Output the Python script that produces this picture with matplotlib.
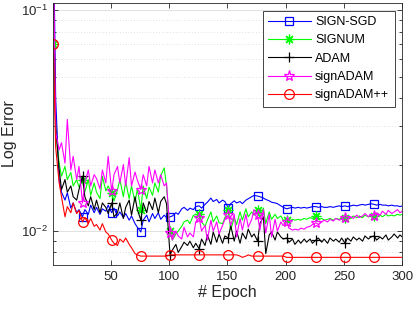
import numpy as np
import matplotlib
matplotlib.use('Agg')
from matplotlib import pyplot as plt
from matplotlib.ticker import LogLocator, NullFormatter

# global settings (MATLAB-like look)
plt.rcParams["font.family"] = ['Liberation Sans', 'DejaVu Sans']
plt.rcParams["mathtext.fontset"] = 'custom'
plt.rcParams["mathtext.rm"] = 'Liberation Sans'
plt.rcParams["mathtext.it"] = 'Liberation Sans:italic'
plt.rcParams["font.size"] = 9.5

# epochs at which values were read (every 2-3 epochs)
epochs = np.sort(np.r_[np.arange(1, 300, 5), np.arange(3, 300, 5), 300])

# SIGN-SGD
sign_sgd = [0.25, 0.040, 0.0170, 0.0150, 0.0138, 0.0149, 0.0127, 0.0134, 0.0121, 0.0125,
            0.0116, 0.0125, 0.0119, 0.0131, 0.0121, 0.0128, 0.0119, 0.0126, 0.0123, 0.0131,
            0.0121, 0.0127, 0.0117, 0.0122, 0.0115, 0.0120, 0.0112, 0.0117, 0.0108, 0.0104,
            0.0099, 0.0112, 0.0118, 0.0110, 0.0120, 0.0114, 0.0121, 0.0113, 0.0118, 0.0115,
            0.0116, 0.0117, 0.0121, 0.0119, 0.0126, 0.0128, 0.0124, 0.0127, 0.0125, 0.0129,
            0.0130, 0.0127, 0.0132, 0.0135, 0.0141, 0.0136, 0.0139, 0.0134, 0.0138, 0.0136,
            0.0127, 0.0133, 0.0137, 0.0134, 0.0136, 0.0133, 0.0138, 0.0140, 0.0143, 0.0145,
            0.0144, 0.0143, 0.0141, 0.0139, 0.0137, 0.0135, 0.0134, 0.0133, 0.0130, 0.0128,
            0.0126, 0.0127, 0.0128, 0.0127, 0.0128, 0.0127, 0.0128, 0.0127, 0.0128, 0.0129,
            0.0129, 0.0128, 0.0129, 0.0128, 0.0128, 0.0129, 0.0128, 0.0129, 0.0130, 0.0129,
            0.0130, 0.0129, 0.0130, 0.0131, 0.0130, 0.0131, 0.0132, 0.0131, 0.0132, 0.0133,
            0.0132, 0.0131, 0.0132, 0.0131, 0.0131, 0.0130, 0.0131, 0.0130, 0.0130, 0.0129, 0.0130]

# SIGNUM
signum = [0.070, 0.028, 0.0203, 0.0177, 0.0196, 0.0171, 0.0184, 0.0160, 0.0171, 0.0158,
          0.0170, 0.0150, 0.0171, 0.0145, 0.0165, 0.0150, 0.0140, 0.0177, 0.0152, 0.0160,
          0.0148, 0.0137, 0.0154, 0.0171, 0.0143, 0.0167, 0.0140, 0.0160, 0.0135, 0.0155,
          0.0125, 0.0160, 0.0140, 0.0158, 0.0145, 0.0165, 0.0150, 0.0178, 0.0193, 0.0160,
          0.0100, 0.0091, 0.0097, 0.0100, 0.0105, 0.0110, 0.0112, 0.0108, 0.0118, 0.0115,
          0.0120, 0.0110, 0.0105, 0.0112, 0.0122, 0.0110, 0.0117, 0.0109, 0.0108, 0.0115,
          0.0125, 0.0101, 0.0115, 0.0107, 0.0122, 0.0112, 0.0126, 0.0116, 0.0122, 0.0118,
          0.0125, 0.0115, 0.0127, 0.0108, 0.0122, 0.0113, 0.0119, 0.0114, 0.0117, 0.0112,
          0.0112, 0.0111, 0.0113, 0.0112, 0.0113, 0.0112, 0.0114, 0.0113, 0.0115, 0.0114,
          0.0117, 0.0113, 0.0114, 0.0112, 0.0113, 0.0114, 0.0112, 0.0114, 0.0113, 0.0115,
          0.0114, 0.0116, 0.0114, 0.0117, 0.0115, 0.0117, 0.0115, 0.0118, 0.0116, 0.0117,
          0.0117, 0.0116, 0.0118, 0.0116, 0.0119, 0.0117, 0.0118, 0.0117, 0.0119, 0.0118, 0.0119]

# ADAM
adam = [0.15, 0.030, 0.0190, 0.0154, 0.0171, 0.0150, 0.0160, 0.0143, 0.0138, 0.0154,
        0.0177, 0.0143, 0.0130, 0.0143, 0.0125, 0.0138, 0.0121, 0.0134, 0.0128, 0.0120,
        0.0134, 0.0116, 0.0121, 0.0134, 0.0114, 0.0128, 0.0138, 0.0118, 0.0143, 0.0125,
        0.0112, 0.0134, 0.0121, 0.0136, 0.0125, 0.0141, 0.0121, 0.0136, 0.0143, 0.0133,
        0.0078, 0.0082, 0.0087, 0.0080, 0.0085, 0.0089, 0.0086, 0.0090, 0.0084, 0.0088,
        0.0083, 0.0092, 0.0086, 0.0096, 0.0087, 0.0099, 0.0089, 0.0097, 0.0088, 0.0095,
        0.0093, 0.0106, 0.0090, 0.0100, 0.0088, 0.0098, 0.0092, 0.0102, 0.0094, 0.0097,
        0.0090, 0.0108, 0.0116, 0.0079, 0.0096, 0.0099, 0.0091, 0.0099, 0.0094, 0.0092,
        0.0093, 0.0089, 0.0092, 0.0087, 0.0091, 0.0088, 0.0092, 0.0089, 0.0092, 0.0088,
        0.0091, 0.0093, 0.0089, 0.0092, 0.0088, 0.0093, 0.0090, 0.0092, 0.0089, 0.0093,
        0.0088, 0.0093, 0.0090, 0.0094, 0.0091, 0.0093, 0.0090, 0.0095, 0.0092, 0.0094,
        0.0095, 0.0091, 0.0094, 0.0092, 0.0096, 0.0091, 0.0094, 0.0097, 0.0093, 0.0096, 0.0094]

# signADAM
sign_adam = [0.20, 0.028, 0.0233, 0.0251, 0.0203, 0.0320, 0.0189, 0.0218, 0.0171, 0.0196,
             0.0134, 0.0165, 0.0189, 0.0160, 0.0180, 0.0173, 0.0155, 0.0189, 0.0165, 0.0218,
             0.0151, 0.0180, 0.0196, 0.0165, 0.0200, 0.0160, 0.0215, 0.0160, 0.0185, 0.0170,
             0.0154, 0.0180, 0.0160, 0.0196, 0.0165, 0.0189, 0.0165, 0.0180, 0.0160, 0.0165,
             0.0098, 0.0091, 0.0100, 0.0095, 0.0092, 0.0104, 0.0094, 0.0098, 0.0094, 0.0110,
             0.0115, 0.0100, 0.0106, 0.0091, 0.0112, 0.0100, 0.0110, 0.0097, 0.0106, 0.0113,
             0.0118, 0.0106, 0.0119, 0.0094, 0.0114, 0.0101, 0.0119, 0.0104, 0.0113, 0.0125,
             0.0118, 0.0101, 0.0125, 0.0098, 0.0119, 0.0094, 0.0113, 0.0100, 0.0110, 0.0106,
             0.0110, 0.0103, 0.0101, 0.0102, 0.0101, 0.0103, 0.0102, 0.0104, 0.0105, 0.0107,
             0.0109, 0.0107, 0.0110, 0.0112, 0.0110, 0.0113, 0.0111, 0.0114, 0.0112, 0.0113,
             0.0115, 0.0113, 0.0116, 0.0114, 0.0118, 0.0115, 0.0117, 0.0120, 0.0116, 0.0119,
             0.0117, 0.0121, 0.0118, 0.0123, 0.0119, 0.0124, 0.0120, 0.0122, 0.0125, 0.0121, 0.0123]

# signADAM++
sign_adam_pp = [0.070, 0.024, 0.0165, 0.0143, 0.0116, 0.0129, 0.0121, 0.0134, 0.0120, 0.0124,
                0.0110, 0.0115, 0.0108, 0.0114, 0.0105, 0.0107, 0.0101, 0.0108, 0.0099, 0.0097,
                0.0091, 0.0088, 0.0086, 0.0092, 0.0089, 0.0093, 0.0087, 0.0084, 0.0079, 0.0078,
                0.0077, 0.0077, 0.0077, 0.0077, 0.0077, 0.0077, 0.0077, 0.0077, 0.0077, 0.0077,
                0.0078, 0.0078, 0.0078, 0.0078, 0.0078, 0.0078, 0.0078, 0.0078, 0.0078, 0.0078,
                0.0078, 0.0078, 0.0078, 0.0078, 0.0078, 0.0078, 0.0078, 0.0078, 0.0078, 0.0078,
                0.0078, 0.0078, 0.0078, 0.0078, 0.0077, 0.0076, 0.0077, 0.0078, 0.0077, 0.0077,
                0.0077, 0.0077, 0.0077, 0.0077, 0.0077, 0.0077, 0.0077, 0.0077, 0.0077, 0.0077,
                0.0076, 0.0076, 0.0076, 0.0076, 0.0076, 0.0076, 0.0076, 0.0076, 0.0076, 0.0076,
                0.0076, 0.0076, 0.0076, 0.0076, 0.0076, 0.0076, 0.0076, 0.0076, 0.0076, 0.0076,
                0.0076, 0.0076, 0.0076, 0.0076, 0.0076, 0.0076, 0.0076, 0.0076, 0.0076, 0.0076,
                0.0076, 0.0076, 0.0076, 0.0076, 0.0076, 0.0076, 0.0076, 0.0076, 0.0076, 0.0076, 0.0076]

labels = ['SIGN-SGD', 'SIGNUM', 'ADAM', 'signADAM', 'signADAM++']
series = [sign_sgd, signum, adam, sign_adam, sign_adam_pp]
colors = ['#0000ff', '#00ff00', '#000000', '#ff00ff', '#ff0000']
# MATLAB-style markers: square, asterisk (8 arms), plus, pentagram, circle
markers = ['s', (8, 2, 0), '+', '*', 'o']
msizes = [6, 7, 7, 8, 7]

text_color = '#262626'

fig = plt.figure(figsize=(4.14, 3.11), dpi=100)
ax = fig.add_axes([0.1288, 0.148, 0.8429, 0.842])

mark_idx = list(range(0, 120, 10))
for y, lab, c, m, ms in zip(series, labels, colors, markers, msizes):
    ax.plot(epochs, y, color=c, lw=0.8, marker=m, markersize=ms,
            markerfacecolor='none', markeredgecolor=c, markeredgewidth=0.9,
            markevery=mark_idx, label=lab)

ax.set_yscale('log')
ax.set_xlim(1, 300)
ax.set_ylim(0.00702, 0.1076)
ax.set_xticks([50, 100, 150, 200, 250, 300])
ax.yaxis.set_major_locator(LogLocator(base=10))
ax.yaxis.set_minor_locator(LogLocator(base=10, subs=np.arange(2, 10)))
ax.yaxis.set_minor_formatter(NullFormatter())

# grid only horizontal
ax.set_axisbelow(True)
ax.grid(True, axis='y', which='major', color='#dcdcdc', lw=0.6, ls='-')
ax.grid(True, axis='y', which='minor', color='#c4c4c4', lw=0.5, ls=(0, (1, 3)))

ax.tick_params(which='both', direction='in', top=True, right=True,
               colors=text_color, labelcolor=text_color, width=0.6)
ax.tick_params(which='major', length=3.5, pad=4)
ax.tick_params(which='minor', length=2)
for s in ax.spines.values():
    s.set_color(text_color)
    s.set_linewidth(0.6)

ax.set_xlabel('# Epoch', fontsize=11.5, color=text_color, labelpad=2)
ax.set_ylabel('Log Error', fontsize=11.5, color=text_color, labelpad=3)

leg = ax.legend(loc='upper right', fontsize=9, numpoints=1, handlelength=3.4,
                handletextpad=0.35, labelspacing=0.5, borderaxespad=0.6,
                fancybox=False, framealpha=1, edgecolor=text_color, borderpad=0.45)
leg.get_frame().set_linewidth(0.6)

plt.savefig('out.png', dpi=100)
plt.close()
